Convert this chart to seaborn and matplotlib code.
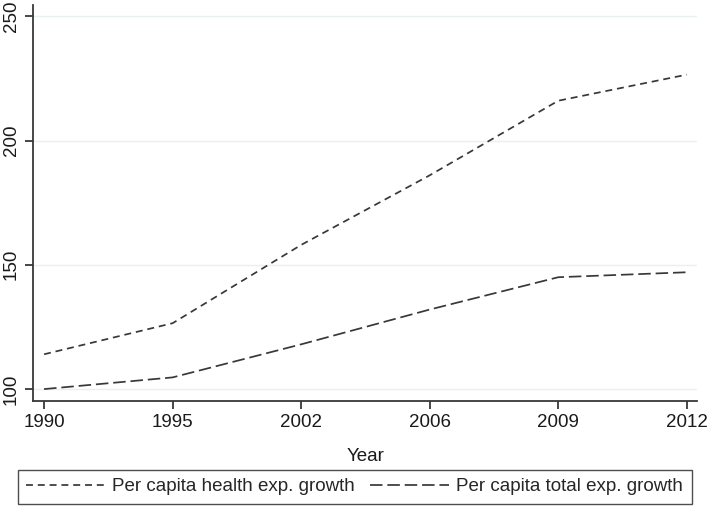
import numpy as np
import pandas as pd
import seaborn as sns
import matplotlib.pyplot as plt

# values
years = ["1990", "1995", "2002", "2006", "2009", "2012"]
health_growth = [114, 126.5, 158, 186, 216, 226.5]
total_growth = [100, 104.7, 118, 132, 145, 147]
series_names = ["Per capita health exp. growth", "Per capita total exp. growth"]

df = pd.DataFrame({
    "Year": years * 2,
    "value": health_growth + total_growth,
    "series": [series_names[0]] * len(years) + [series_names[1]] * len(years),
})

sns.set_style("white")
plt.rcParams["font.family"] = ["Liberation Sans", "DejaVu Sans"]
plt.rcParams["lines.scale_dashes"] = False

grey = "#383838"
fig = plt.figure(figsize=(7.08, 5.08), dpi=100)
ax = fig.add_axes([0.0466, 0.2106, 0.938, 0.779])

sns.lineplot(data=df, x="Year", y="value", style="series",
             dashes={series_names[0]: (5, 3.5), series_names[1]: (9, 3.5)},
             color=grey, linewidth=1.25, ax=ax, legend=False, sort=False)

ax.set_xlim(-0.086, 5.08)
ax.set_ylim(95.2, 254.4)
ax.set_yticks([100, 150, 200, 250])
ax.yaxis.grid(True, color="#e9f0f0", linewidth=1.0)
ax.set_axisbelow(True)

for side in ["top", "right"]:
    ax.spines[side].set_visible(False)
for side in ["left", "bottom"]:
    ax.spines[side].set_color(grey)
    ax.spines[side].set_linewidth(1.3)

ax.tick_params(axis="both", direction="out", length=6, width=1.3, color=grey,
               labelsize=13.5, labelcolor="#1a1a1a", left=True, bottom=True)
plt.setp(ax.get_yticklabels(), rotation=90, va="center")
ax.set_xlabel("Year", fontsize=13.5, color="#1a1a1a", labelpad=12)
ax.set_ylabel("")

handles = [plt.Line2D([], [], color=grey, linewidth=1.25, dashes=(5, 3.5)),
           plt.Line2D([], [], color=grey, linewidth=1.25, dashes=(9, 3.5))]
leg = fig.legend(handles, series_names, loc="lower left",
                 bbox_to_anchor=(0.025, 0.008, 0.952, 0.068), mode="expand",
                 ncol=2, fontsize=13.5, frameon=True, fancybox=False,
                 handlelength=4.2, handletextpad=0.4, borderaxespad=0,
                 borderpad=0.45)
leg.get_frame().set_edgecolor("#222222")
leg.get_frame().set_linewidth(1.0)

fig.savefig("out.png", dpi=100)
